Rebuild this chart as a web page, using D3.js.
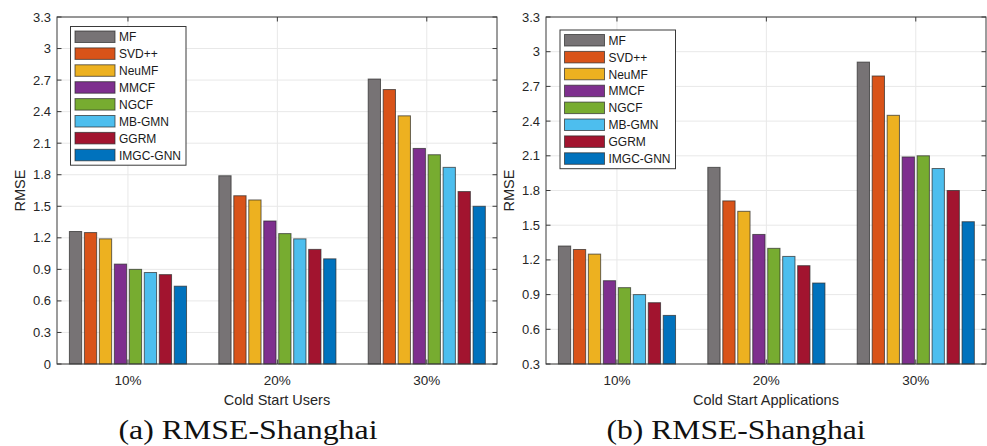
<!DOCTYPE html>
<html>
<head>
<meta charset="utf-8">
<script src="https://cdn.jsdelivr.net/npm/d3@7"></script>
<style>
  body { margin: 0; background: #fff; }
  svg { display: block; }
</style>
</head>
<body>
<svg id="chart" width="987" height="446"></svg>
<script>
// categories and series
const groups = ['10%', '20%', '30%'];
const methods = ['MF', 'SVD++', 'NeuMF', 'MMCF', 'NGCF', 'MB-GMN', 'GGRM', 'IMGC-GNN'];
const colors = ['#777375', '#D95319', '#EDB120', '#7E2F8E', '#77AC30', '#4DBEEE', '#A2142F', '#0072BD'];

// (a) cold start users, one array per group
const usersRmse = [
	[1.26, 1.25, 1.19, 0.95, 0.90, 0.87, 0.85, 0.74],
	[1.79, 1.60, 1.56, 1.36, 1.24, 1.19, 1.09, 1.00],
	[2.71, 2.61, 2.36, 2.05, 1.99, 1.87, 1.64, 1.50]
];
// (b) cold start applications
const appsRmse = [
	[1.32, 1.29, 1.25, 1.02, 0.96, 0.90, 0.83, 0.72],
	[2.00, 1.71, 1.62, 1.42, 1.30, 1.23, 1.15, 1.00],
	[2.91, 2.79, 2.45, 2.09, 2.10, 1.99, 1.80, 1.53]
];

const ticksA = [0, 0.3, 0.6, 0.9, 1.2, 1.5, 1.8, 2.1, 2.4, 2.7, 3, 3.3];
const ticksB = [0.3, 0.6, 0.9, 1.2, 1.5, 1.8, 2.1, 2.4, 2.7, 3, 3.3];

const svg = d3.select('#chart');
const axisColor = '#3a3a3a';
const gridColor = '#e8e8e8';
const sans = '"Liberation Sans", Arial, sans-serif';

function drawPanel(opt) {
	const { left, right, top, bottom, data, yDomain, yTicks, xTitle, caption, capX, legendX, legendY } = opt;
	const g = svg.append('g');

	const x = d3.scaleLinear().domain([0.525, 3.47]).range([left, right]);
	const y = d3.scaleLinear().domain(yDomain).range([bottom, top]);
	const step = x(2) - x(1);
	const inner = d3.scaleBand().domain(methods)
		.range([-step * 0.392, step * 0.392])
		.paddingInner(0.18);

	// grid
	g.selectAll('.gy').data(yTicks).join('line')
		.attr('x1', left).attr('x2', right)
		.attr('y1', d => y(d)).attr('y2', d => y(d))
		.attr('stroke', gridColor).attr('stroke-width', 1);
	g.selectAll('.gx').data(groups).join('line')
		.attr('x1', (d, i) => x(i + 1)).attr('x2', (d, i) => x(i + 1))
		.attr('y1', top).attr('y2', bottom)
		.attr('stroke', gridColor).attr('stroke-width', 1);

	// bars
	groups.forEach((grp, gi) => {
		g.selectAll(null).data(data[gi]).join('rect')
			.attr('x', (v, k) => x(gi + 1) + inner(methods[k]))
			.attr('width', inner.bandwidth())
			.attr('y', v => y(v))
			.attr('height', v => y(yDomain[0]) - y(v))
			.attr('fill', (v, k) => colors[k])
			.attr('stroke', '#2b2b2b').attr('stroke-opacity', 0.7)
			.attr('stroke-width', 1);
	});

	// box
	g.append('rect')
		.attr('x', left).attr('y', top)
		.attr('width', right - left).attr('height', bottom - top)
		.attr('fill', 'none').attr('stroke', axisColor).attr('stroke-width', 1);

	// ticks (inward, both sides)
	const tl = 4.5;
	yTicks.forEach(t => {
		g.append('line').attr('x1', left).attr('x2', left + tl).attr('y1', y(t)).attr('y2', y(t)).attr('stroke', axisColor);
		g.append('line').attr('x1', right).attr('x2', right - tl).attr('y1', y(t)).attr('y2', y(t)).attr('stroke', axisColor);
	});
	groups.forEach((grp, gi) => {
		g.append('line').attr('x1', x(gi + 1)).attr('x2', x(gi + 1)).attr('y1', bottom).attr('y2', bottom - tl).attr('stroke', axisColor);
		g.append('line').attr('x1', x(gi + 1)).attr('x2', x(gi + 1)).attr('y1', top).attr('y2', top + tl).attr('stroke', axisColor);
	});

	// tick labels
	g.selectAll('.yl').data(yTicks).join('text')
		.attr('x', left - 6).attr('y', d => y(d)).attr('dy', '0.35em')
		.attr('text-anchor', 'end')
		.style('font', `13px ${sans}`).attr('fill', '#262626')
		.text(d => d3.format('~g')(d));
	g.selectAll('.xl').data(groups).join('text')
		.attr('x', (d, i) => x(i + 1)).attr('y', bottom + 16).attr('dy', '0.35em')
		.attr('text-anchor', 'middle')
		.style('font', `13.5px ${sans}`).attr('fill', '#262626')
		.text(d => d);

	// axis titles
	g.append('text')
		.attr('x', (left + right) / 2).attr('y', bottom + 36).attr('dy', '0.35em')
		.attr('text-anchor', 'middle')
		.style('font', `14.5px ${sans}`).attr('fill', '#262626')
		.text(xTitle);
	g.append('text')
		.attr('transform', `translate(${left - 37},${(top + bottom) / 2}) rotate(-90)`)
		.attr('dy', '0.35em')
		.attr('text-anchor', 'middle')
		.style('font', `14.5px ${sans}`).attr('fill', '#262626')
		.text('RMSE');

	// legend
	const rowH = 16.9;
	const lg = g.append('g').attr('transform', `translate(${legendX},${legendY})`);
	lg.append('rect')
		.attr('x', 0).attr('y', 0).attr('width', 115.5).attr('height', 8 * rowH + 3.5)
		.attr('fill', '#fff').attr('stroke', axisColor).attr('stroke-width', 1);
	methods.forEach((m, k) => {
		lg.append('rect')
			.attr('x', 4.5).attr('y', 4.5 + k * rowH)
			.attr('width', 40).attr('height', 11.5)
			.attr('fill', colors[k]).attr('stroke', '#2b2b2b').attr('stroke-opacity', 0.7);
		lg.append('text')
			.attr('x', 48.5).attr('y', 10.5 + k * rowH).attr('dy', '0.35em')
			.style('font', `12px ${sans}`).attr('fill', '#1a1a1a')
			.text(m);
	});

	// caption
	svg.append('text')
		.attr('x', capX).attr('y', 439)
		.attr('text-anchor', 'middle')
		.attr('textLength', 259).attr('lengthAdjust', 'spacingAndGlyphs')
		.style('font', '27px "Liberation Serif", "DejaVu Serif", serif').attr('fill', '#111')
		.text(caption);
}

drawPanel({
	left: 57, right: 497, top: 17, bottom: 364,
	data: usersRmse, yDomain: [0, 3.3], yTicks: ticksA,
	xTitle: 'Cold Start Users', caption: '(a) RMSE-Shanghai', capX: 248,
	legendX: 70.5, legendY: 26.5
});
drawPanel({
	left: 546, right: 986, top: 17, bottom: 364,
	data: appsRmse, yDomain: [0.3, 3.3], yTicks: ticksB,
	xTitle: 'Cold Start Applications', caption: '(b) RMSE-Shanghai', capX: 736,
	legendX: 560, legendY: 30
});
</script>
</body>
</html>
